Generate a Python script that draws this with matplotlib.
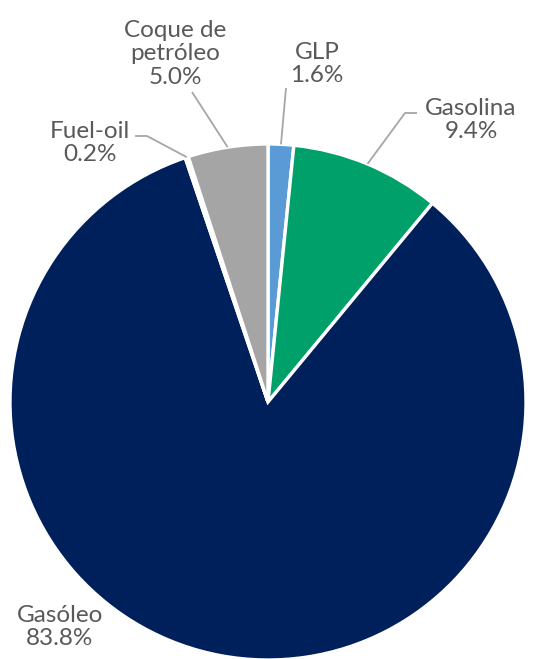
import numpy as np
import matplotlib.pyplot as plt

# datos
categorias = ["GLP", "Gasolina", "Gasóleo", "Fuel-oil", "Coque de\npetróleo"]
porcentajes = [1.6, 9.4, 83.8, 0.2, 5.0]
colores = ["#5B9BD5", "#00A06B", "#00205B", "#7F7F7F", "#A5A5A5"]

W, H = 534, 659
fig = plt.figure(figsize=(W / 100, H / 100), dpi=100)
ax = fig.add_axes([0, 0, 1, 1])

cx, cy, r = 268, H - 402, 258
ax.pie(porcentajes, colors=colores, startangle=90, counterclock=False,
       center=(cx, cy), radius=r, frame=True,
       wedgeprops=dict(edgecolor="white", linewidth=2.4))
ax.set_xlim(0, W)
ax.set_ylim(0, H)
ax.set_aspect("equal")
ax.axis("off")

# posiciones de etiquetas (px desde arriba) y quiebre de la línea guía
etiquetas = {
    "GLP": ((317, 64), [(286, 88)]),
    "Gasolina": ((471, 120), [(417, 113), (405, 113)]),
    "Gasóleo": ((60, 627), None),
    "Fuel-oil": ((90, 143), [(135, 136), (147, 136)]),
    "Coque de\npetróleo": ((175, 54), [(192, 92)]),
}

acum = np.cumsum([0] + porcentajes)
for i, cat in enumerate(categorias):
    (lx, ly), guia = etiquetas[cat]
    ax.text(lx, H - ly, f"{cat}\n{porcentajes[i]:.1f}%", ha="center", va="center",
            fontsize=17.5, color="#595959", family="Lato", linespacing=1.17)
    if guia:
        mid = (acum[i] + acum[i + 1]) / 2 / 100
        ang = np.deg2rad(90 - mid * 360)
        px, py = cx + r * np.cos(ang), cy + r * np.sin(ang)
        xs = [p[0] for p in guia] + [px]
        ys = [H - p[1] for p in guia] + [py]
        ax.plot(xs, ys, color="#A6A6A6", lw=1.3, solid_capstyle="butt")

fig.savefig("out.png", dpi=100)
